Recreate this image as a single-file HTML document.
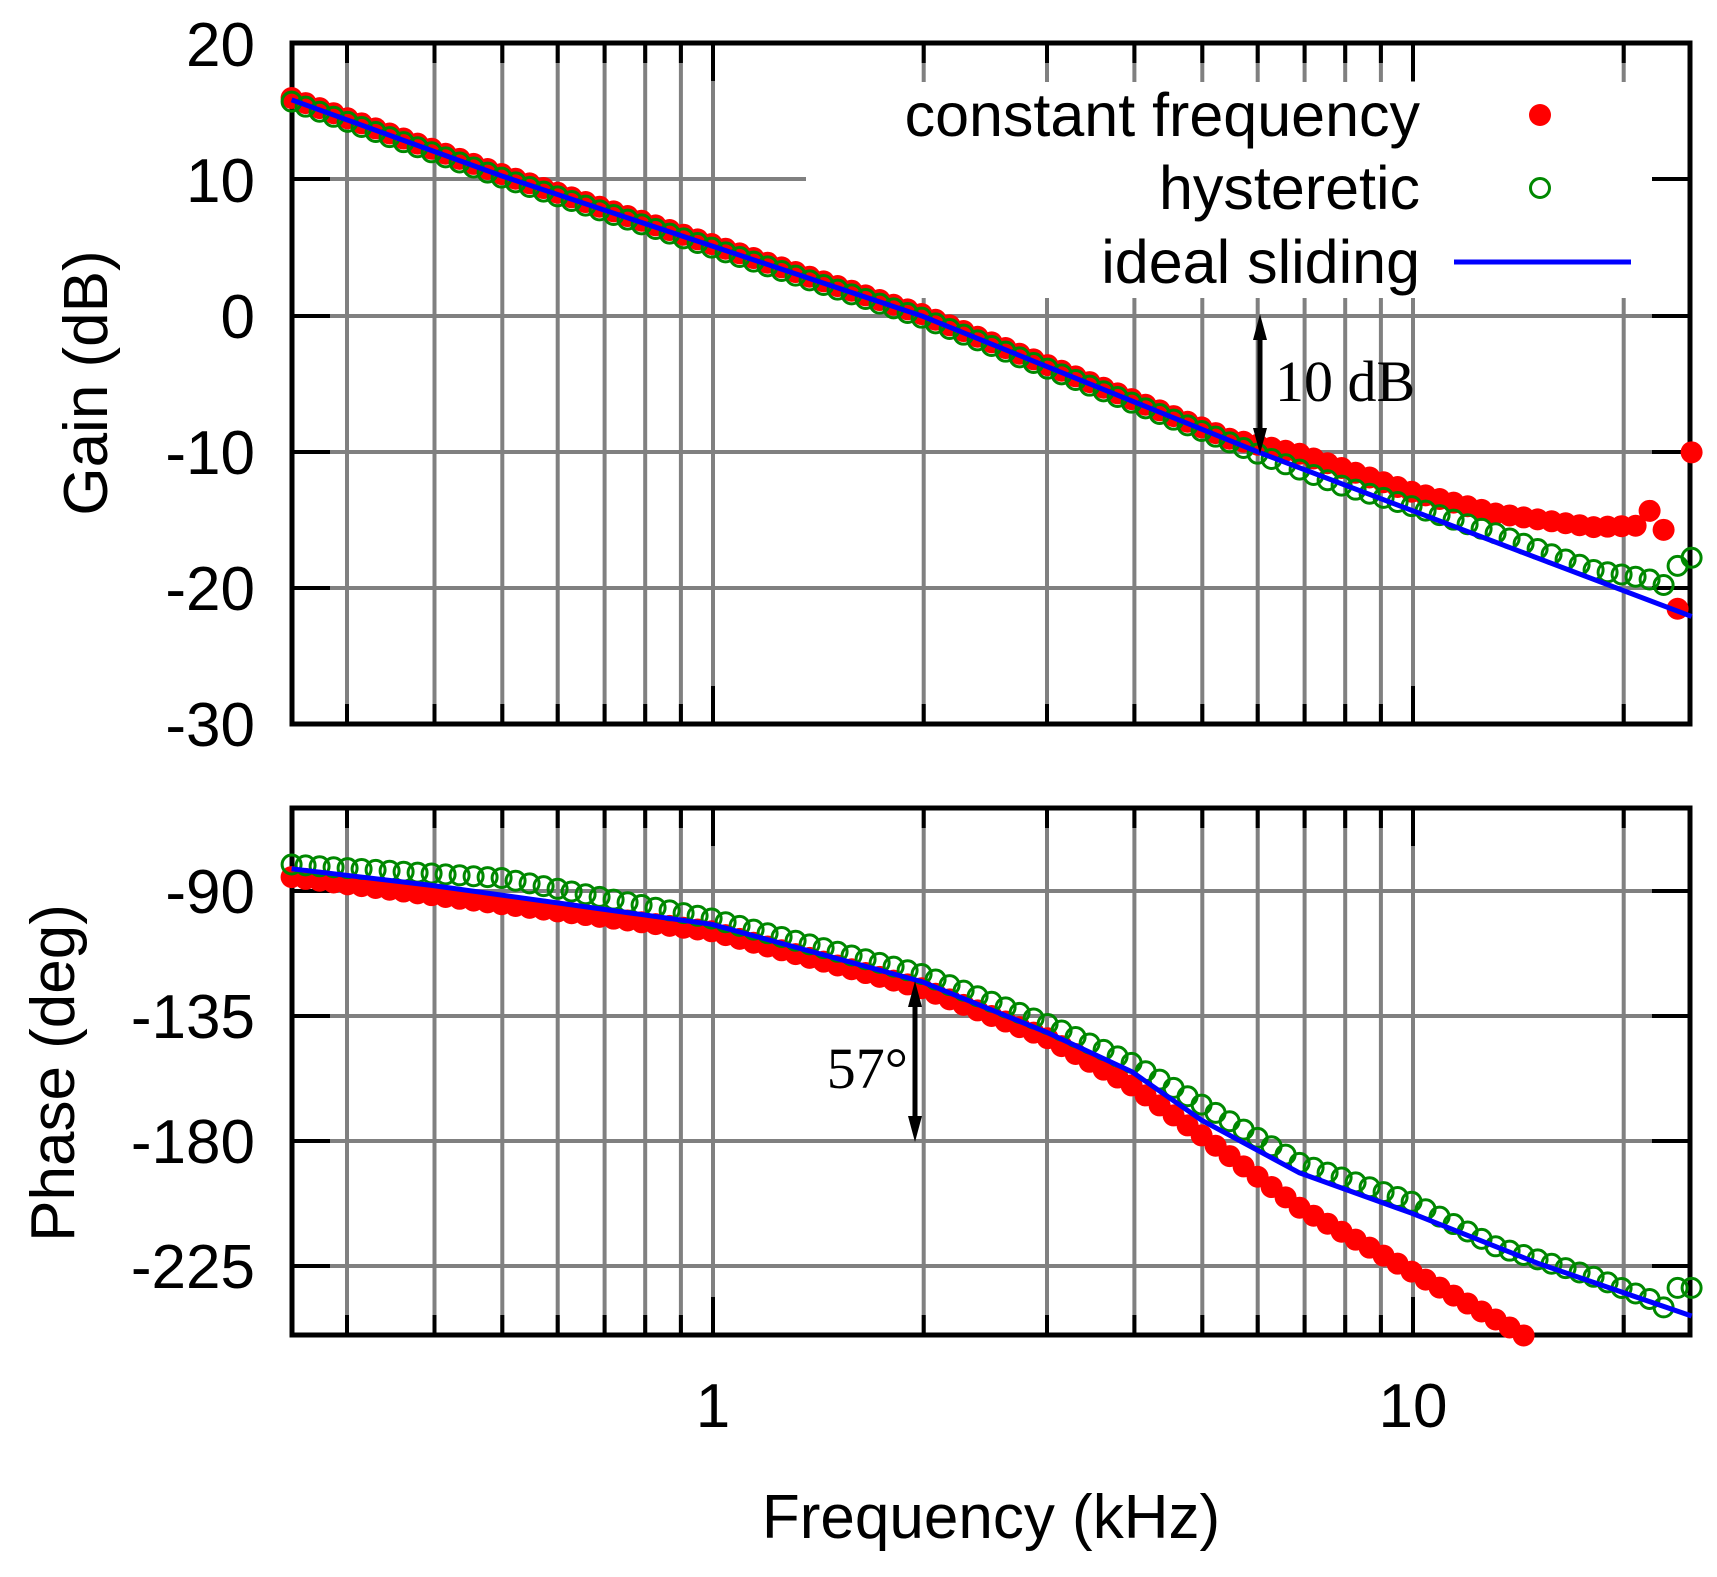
<!DOCTYPE html>
<html><head><meta charset="utf-8"><style>html,body{margin:0;padding:0;background:#fff}svg{display:block}</style></head>
<body>
<svg width="1717" height="1577" viewBox="0 0 1717 1577" xmlns="http://www.w3.org/2000/svg" font-family="Liberation Sans, sans-serif">
<defs>
<marker id="mr" markerUnits="userSpaceOnUse" markerWidth="30" markerHeight="30" refX="15" refY="15" overflow="visible"><circle cx="15" cy="15" r="11" fill="#f00"/></marker>
<marker id="mg" markerUnits="userSpaceOnUse" markerWidth="30" markerHeight="30" refX="15" refY="15" overflow="visible"><circle cx="15" cy="15" r="9.5" fill="none" stroke="#080" stroke-width="3"/></marker>
</defs>
<rect width="1717" height="1577" fill="#fff"/>
<path fill="none" stroke="#808080" stroke-width="4" d="
M347,43V724M434.5,43V724M502.3,43V724M557.7,43V724M604.6,43V724M645.2,43V724M680.9,43V724M713,43V724M923.7,43V724M1047,43V724M1134.4,43V724M1202.3,43V724M1257.7,43V724M1304.6,43V724M1345.2,43V724M1380.9,43V724M1413,43V724M1623.7,43V724
M347,808V1335M434.5,808V1335M502.3,808V1335M557.7,808V1335M604.6,808V1335M645.2,808V1335M680.9,808V1335M713,808V1335M923.7,808V1335M1047,808V1335M1134.4,808V1335M1202.3,808V1335M1257.7,808V1335M1304.6,808V1335M1345.2,808V1335M1380.9,808V1335M1413,808V1335M1623.7,808V1335
M292,179H1690M292,316H1690M292,452H1690M292,588H1690
M292,891H1690M292,1016H1690M292,1141H1690M292,1266H1690"/>
<rect x="806" y="82" width="882" height="216" fill="#fff"/>
<path fill="none" stroke="#000" stroke-width="4" d="
M347,43v20M434.5,43v20M502.3,43v20M557.7,43v20M604.6,43v20M645.2,43v20M680.9,43v20M713,43v38M923.7,43v20M1047,43v20M1134.4,43v20M1202.3,43v20M1257.7,43v20M1304.6,43v20M1345.2,43v20M1380.9,43v20M1413,43v38M1623.7,43v20
M347,724v-20M434.5,724v-20M502.3,724v-20M557.7,724v-20M604.6,724v-20M645.2,724v-20M680.9,724v-20M713,724v-38M923.7,724v-20M1047,724v-20M1134.4,724v-20M1202.3,724v-20M1257.7,724v-20M1304.6,724v-20M1345.2,724v-20M1380.9,724v-20M1413,724v-38M1623.7,724v-20
M347,808v20M434.5,808v20M502.3,808v20M557.7,808v20M604.6,808v20M645.2,808v20M680.9,808v20M713,808v38M923.7,808v20M1047,808v20M1134.4,808v20M1202.3,808v20M1257.7,808v20M1304.6,808v20M1345.2,808v20M1380.9,808v20M1413,808v38M1623.7,808v20
M347,1335v-20M434.5,1335v-20M502.3,1335v-20M557.7,1335v-20M604.6,1335v-20M645.2,1335v-20M680.9,1335v-20M713,1335v-38M923.7,1335v-20M1047,1335v-20M1134.4,1335v-20M1202.3,1335v-20M1257.7,1335v-20M1304.6,1335v-20M1345.2,1335v-20M1380.9,1335v-20M1413,1335v-38M1623.7,1335v-20
M292,179h38M292,316h38M292,452h38M292,588h38M1690,179h-38M1690,316h-38M1690,452h-38M1690,588h-38
M292,891h38M292,1016h38M292,1141h38M292,1266h38M1690,891h-38M1690,1016h-38M1690,1141h-38M1690,1266h-38"/>
<g fill="none" stroke="#000" stroke-width="5">
<rect x="292" y="43" width="1398" height="681"/>
<rect x="292" y="808" width="1398" height="527"/>
</g>
<!-- red gain -->
<path fill="none" stroke="none" marker-start="url(#mr)" marker-mid="url(#mr)" marker-end="url(#mr)" d="M291.6,98
l14,5.07l14,5.07l14,5.07l14,5.07l14,5.07l14,5.07l14,5.07l14,5.07l14,5.07l14,5.07l14,5.07l14,5.07l14,5.07l14,5.07l14,5.07
l14,4.667l14,4.667l14,4.667l14,4.667l14,4.667l14,4.667l14,4.667l14,4.667l14,4.667l14,4.667l14,4.667l14,4.667l14,4.667l14,4.667l14,4.667l14,4.667l14,4.667l14,4.667l14,4.667l14,4.667l14,4.667l14,4.667l14,4.667l14,4.667l14,4.667l14,4.667l14,4.667l14,4.667l14,4.667l14,4.667
l14,5.667l14,5.667l14,5.667l14,5.667l14,5.667l14,5.667l14,5.667l14,5.667l14,5.667l14,5.667l14,5.667l14,5.667l14,5.667l14,5.667l14,5.667l14,5.667l14,5.667l14,5.667l14,5.667l14,5.667l14,5.667l14,5.667
l14,3.0l14,3.0l14,3.0l14,3.0l14,3.0
l14,4.75l14,4.75l14,4.75l14,4.75l14,4.75l14,4.75l14,4.75l14,4.75
l14,3.633l14,3.633l14,3.633l14,3.633l14,3.633l14,3.633
l14,1.943l14,1.943l14,1.943l14,1.943l14,1.943l14,1.943l14,1.943
l14,-0.467l14,-0.467l14,-0.467l14,-14.9l14,19l14,78.9l14,-156.4"/>
<!-- red phase -->
<path fill="none" stroke="none" marker-start="url(#mr)" marker-mid="url(#mr)" marker-end="url(#mr)" d="M291.6,877.1
l14,1.807l14,1.807l14,1.807l14,1.807l14,1.807l14,1.807l14,1.807l14,1.807l14,1.807l14,1.807l14,1.807l14,1.807l14,1.807l14,1.807l14,1.807l14,1.807l14,1.807l14,1.807l14,1.807l14,1.807l14,1.807l14,1.807l14,1.807l14,1.807l14,1.807l14,1.807l14,1.807l14,1.807l14,1.807l14,1.807
l14,3.793l14,3.793l14,3.793l14,3.793l14,3.793l14,3.793l14,3.793l14,3.793l14,3.793l14,3.793l14,3.793l14,3.793l14,3.793l14,3.793l14,3.793
l14,5.556l14,5.556l14,5.556l14,5.556l14,5.556l14,5.556l14,5.556l14,5.556l14,5.556
l14,7.867l14,7.867l14,7.867l14,7.867l14,7.867l14,7.867
l14,10l14,10l14,10l14,10l14,10
l14,10.33l14,10.33l14,10.33l14,10.33l14,10.33l14,10.33l14,10.33
l14,7.99l14,7.99l14,7.99l14,7.99l14,7.99l14,7.99l14,7.99l14,7.99
l14,7.975l14,7.975l14,7.975l14,7.975l14,7.975l14,7.975l14,7.975l14,7.975"/>
<!-- green gain -->
<path fill="none" stroke="none" marker-start="url(#mg)" marker-mid="url(#mg)" marker-end="url(#mg)" d="M291.6,101.6
l14,5.07l14,5.07l14,5.07l14,5.07l14,5.07l14,5.07l14,5.07l14,5.07l14,5.07l14,5.07l14,5.07l14,5.07l14,5.07l14,5.07l14,5.07
l14,4.667l14,4.667l14,4.667l14,4.667l14,4.667l14,4.667l14,4.667l14,4.667l14,4.667l14,4.667l14,4.667l14,4.667l14,4.667l14,4.667l14,4.667l14,4.667l14,4.667l14,4.667l14,4.667l14,4.667l14,4.667l14,4.667l14,4.667l14,4.667l14,4.667l14,4.667l14,4.667l14,4.667l14,4.667l14,4.667
l14,5.667l14,5.667l14,5.667l14,5.667l14,5.667l14,5.667l14,5.667l14,5.667l14,5.667l14,5.667l14,5.667l14,5.667l14,5.667l14,5.667l14,5.667l14,5.667l14,5.667l14,5.667l14,5.667l14,5.667l14,5.667l14,5.667l14,5.667l14,5.667
l14,5.318l14,5.318l14,5.318l14,5.318l14,5.318l14,5.318
l14,4.1l14,4.1l14,4.1l14,4.1l14,4.1
l14,4.533l14,4.533l14,4.533l14,4.533l14,4.533l14,4.533
l14,5.243l14,5.243l14,5.243l14,5.243l14,5.243l14,5.243l14,5.243
l14,2.267l14,2.267l14,2.267l14,2.7l14,5.5l14,-19.1l14,-8.1"/>
<!-- green phase -->
<path fill="none" stroke="none" marker-start="url(#mg)" marker-mid="url(#mg)" marker-end="url(#mg)" d="M291.6,864.5
l14,0.9l14,0.9l14,0.9l14,0.9l14,0.9l14,0.9l14,0.9l14,0.9l14,0.9l14,0.9l14,0.9l14,0.9l14,0.9l14,0.9l14,0.9
l14,2.7l14,2.7l14,2.7l14,2.7l14,2.7l14,2.7l14,2.7l14,2.7l14,2.7l14,2.7l14,2.7l14,2.7l14,2.7l14,2.7l14,2.7
l14,3.7l14,3.7l14,3.7l14,3.7l14,3.7l14,3.7l14,3.7l14,3.7l14,3.7l14,3.7l14,3.7l14,3.7l14,3.7l14,3.7l14,3.7
l14,5.556l14,5.556l14,5.556l14,5.556l14,5.556l14,5.556l14,5.556l14,5.556l14,5.556
l14,6.483l14,6.483l14,6.483l14,6.483l14,6.483l14,6.483
l14,8.333l14,8.333l14,8.333l14,8.333l14,8.333l14,8.333l14,8.333l14,8.333l14,8.333l14,8.333l14,8.333l14,8.333
l14,4.863l14,4.863l14,4.863l14,4.863l14,4.863l14,4.863l14,4.863l14,4.863
l14,7.417l14,7.417l14,7.417l14,7.417l14,7.417l14,7.417
l14,4.357l14,4.357l14,4.357l14,4.357l14,4.357l14,4.357l14,4.357
l14,5.567l14,5.567l14,5.567l14,5.5l14,8.4l14,-19.5l14,0"/>
<!-- blue -->
<path fill="none" stroke="#00f" stroke-width="5" stroke-linejoin="round" d="M291.6,99.8l210,76.05l420,140l336,136l154,58.5l280,106.1"/>
<path fill="none" stroke="#00f" stroke-width="5" stroke-linejoin="round" d="M291.6,868.8l140,16.6l280,38.9l210,57.3l126,51.1l84,38.9l70,48.6l98,52.7l112,40.3l126,50l154,52.8"/>
<g font-size="62" text-anchor="end" fill="#000">
<text x="255" y="66">20</text><text x="255" y="202">10</text><text x="255" y="338">0</text>
<text x="255" y="474">-10</text><text x="255" y="610">-20</text><text x="255" y="746">-30</text>
<text x="255" y="913">-90</text><text x="255" y="1038">-135</text><text x="255" y="1163">-180</text><text x="255" y="1288">-225</text>
</g>
<g font-size="62" text-anchor="middle">
<text x="713" y="1427">1</text><text x="1413" y="1427">10</text>
<text x="991" y="1538">Frequency (kHz)</text>
<text transform="translate(107,383) rotate(-90)">Gain (dB)</text>
<text transform="translate(74,1073) rotate(-90)">Phase (deg)</text>
</g>
<g font-size="61" text-anchor="end">
<text x="1420" y="136">constant frequency</text>
<text x="1420" y="209">hysteretic</text>
<text x="1420" y="283">ideal sliding</text>
</g>
<circle cx="1540" cy="115" r="11" fill="#f00"/>
<circle cx="1540" cy="188" r="9.5" fill="none" stroke="#080" stroke-width="3"/>
<line x1="1454" y1="262" x2="1631" y2="262" stroke="#00f" stroke-width="5"/>
<g font-family="Liberation Serif, serif" font-size="58">
<text x="1275" y="401">10 dB</text>
<text x="908" y="1088" text-anchor="end">57°</text>
</g>
<g stroke="#000" stroke-width="5">
<line x1="1260" y1="330" x2="1260" y2="438"/>
<line x1="915" y1="997" x2="915" y2="1126"/>
</g>
<g fill="#000">
<polygon points="1260,314 1253,340 1267,340"/><polygon points="1260,454 1253,428 1267,428"/>
<polygon points="915,981 908,1007 922,1007"/><polygon points="915,1142 908,1116 922,1116"/>
</g>
</svg>
</body></html>
